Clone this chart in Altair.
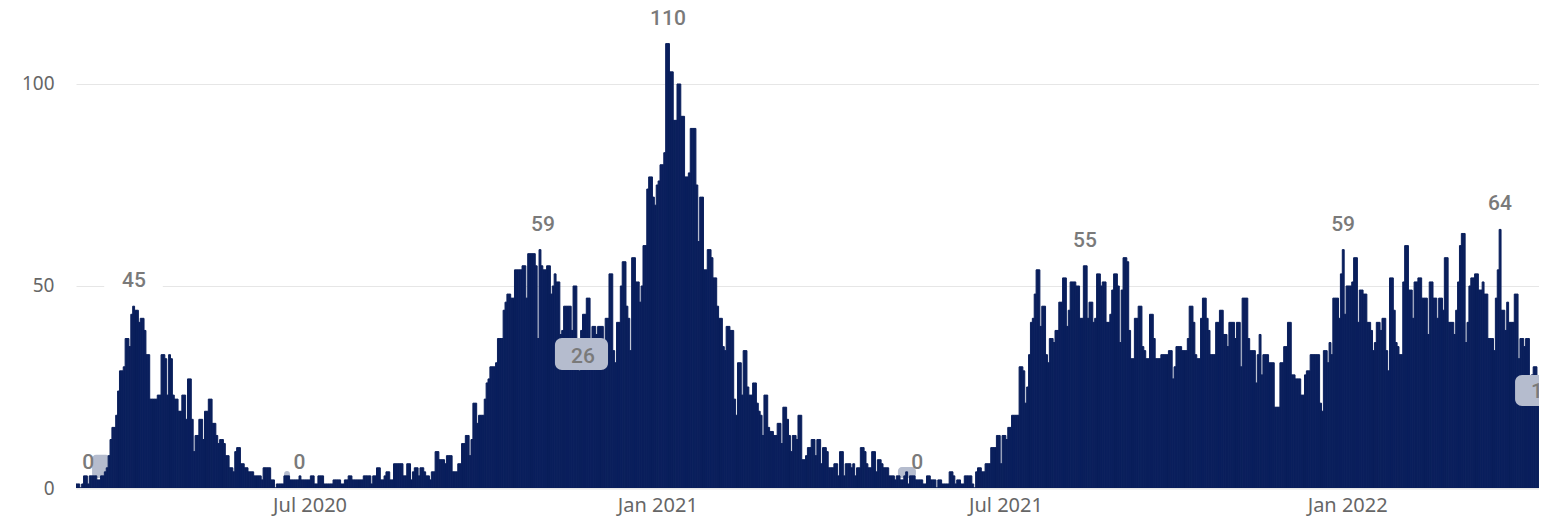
import altair as alt
import pandas as pd

START = "2020-03-01"

# daily values
cases_mar_may_2020 = [1,1,0,1,3,3,1,3,3,3, 3,2,2,3,3,4,5,8,12,15, 15,18,24,29,29,30,37,37,35,43,
                      45,44,44,41,42,42,39,33,33,22, 22,22,22,23,23,33,33,32,23,33, 32,23,22,22,19,19,23,23,17,27,
                      27,17,9,13,13,17]
cases_may_jul_2020 = [17,12,19,19,22,22,16,16,13,11, 12,12,11,8,8,5,5,4,9,10, 10,6,6,5,5,4,4,4,3,3,
                      3,3,2,5,5,5,5,2,2,0, 1,1,1,1,3,3,3,2,2,2, 2,2,3,2,2,2,2,2,3,3, 1,1,3,3,3,1]
cases_jul_sep_2020 = [1,1,1,1,2,2,2,2,1,1, 2,2,3,3,2,2,2,2,2,2, 3,3,3,3,1,3,3,5,5,2,
                      2,3,4,4,2,2,6,6,6,6, 6,3,3,6,6,2,4,5,5,3, 5,5,4,3,3,2,4,4,9,9, 7,7,7,6,8,8]
cases_sep_nov_2020 = [8,4,4,4,6,6,11,11,13,13, 8,12,21,21,16,18,18,18,22,26, 27,30,30,30,31,37,37,37,44,46,
                      48,48,47,47,54,54,54,54,55,55, 47,58,58,58,58,55,37,59,55,54, 54,55,55,48,50,53,51,51,38,39,
                      45,45,45,45,39,50]
cases_nov_jan_2021 = [50,35,29,39,43,43,47,47,37,40, 40,38,40,40,40,33,42,42,53,53, 34,31,41,41,50,56,56,45,42,34,
                      57,57,51,51,46,50,60,60,74,77, 77,72,70,75,76,80,80,83,110,110, 103,103,91,91,100,100,92,92,77,77,
                      78,89,89,89,75,61]
cases_jan_mar_2021 = [72,72,54,54,59,59,57,52,52,45, 42,42,35,34,40,40,39,39,22,18, 31,31,23,34,34,25,23,23,26,26,
                      21,19,18,13,23,23,15,14,14,13, 13,16,16,11,20,20,17,13,9,13, 13,12,18,18,7,7,8,10,10,12,
                      12,8,12,12,6,10]
cases_mar_may_2021 = [10,9,5,5,5,6,6,3,9,9, 3,6,6,6,5,6,3,5,5,10, 10,9,6,5,5,9,9,4,7,7,
                      6,5,5,5,3,3,3,2,3,3, 2,2,3,4,1,3,3,3,2,2, 2,2,1,1,3,3,2,2,2,0, 2,2,1,1,1,1]
cases_may_jul_2021 = [4,4,3,1,2,2,1,1,3,3, 3,3,1,0,4,5,5,4,4,6, 6,6,10,10,10,13,13,6,13,13,
                      12,15,15,18,18,18,18,30,30,29, 21,25,33,41,42,48,54,54,40,45, 45,33,31,37,37,36,39,39,46,46,
                      52,52,40,44,51,51]
cases_aug_oct_2021 = [51,50,50,42,42,55,55,42,46,46, 41,42,53,53,50,51,51,41,41,43, 49,53,53,50,36,49,57,57,56,39,
                      32,32,42,42,45,45,35,34,32,32, 43,43,37,32,32,32,33,33,33,33, 34,34,27,30,35,35,35,34,34,34,
                      37,45,45,41,33,32]
cases_oct_dec_2021 = [32,42,47,47,42,39,33,33,33,41, 41,44,44,38,38,35,41,41,41,37, 41,41,30,47,47,47,37,34,34,34,
                      26,33,38,28,33,33,33,31,31,31, 20,20,20,31,31,35,35,41,41,28, 28,27,27,27,23,23,28,29,29,33,
                      33,33,33,33,21,19,34,34,31,36, 33,47,47,47,42,53,59,43,50,50, 50,51,57,57,41,49,49,48]
cases_jan_apr_2022 = [48,41,41,39,34,36,41,41,39,42, 42,34,29,52,52,44,36,35,33,33, 51,60,60,49,49,42,51,51,52,52,
                      47,47,47,38,51,51,47,47,42,47, 47,44,57,57,41,41,41,38,44,51, 60,63,63,36,41,50,52,52,53,53,
                      49,49,51,48,48,37,37,37,34,47, 54,64,44,44,39,46,41,41,41,48, 48,32,37,37,35,37,37,24,28,30,
                      30,26,26,26,26,17]

cases = (cases_mar_may_2020 + cases_may_jul_2020 + cases_jul_sep_2020 + cases_sep_nov_2020
         + cases_nov_jan_2021 + cases_jan_mar_2021 + cases_mar_may_2021 + cases_may_jul_2021
         + cases_aug_oct_2021 + cases_oct_dec_2021 + cases_jan_apr_2022)

days = pd.date_range(START, periods=len(cases), freq="D")
fmt = "%Y-%m-%dT%H:%M:%S"
bars_df = pd.DataFrame({
    "date": days.strftime(fmt),
    "end": (days + pd.Timedelta(days=1)).strftime(fmt),
    "cases": cases,
})

# data labels (value labels above bars)
label_dates = ["2020-03-07T12:00:00", "2020-03-31T16:00:00", "2020-06-27T05:00:00", "2020-11-03T02:00:00",
               "2021-01-08T05:00:00", "2021-05-20T02:00:00", "2021-08-16T21:00:00", "2021-12-31T10:00:00",
               "2022-03-24T10:00:00"]
label_values = [0, 45, 0, 59, 110, 0, 55, 59, 64]
labels_df = pd.DataFrame({"date": label_dates, "cases": label_values,
                          "text": [str(v) for v in label_values]})

# label background boxes partly hidden behind the bars
back_start = ["2020-03-09T12:00:00", "2020-06-19T02:00:00", "2021-05-09T21:00:00", "2020-03-15T22:00:00"]
back_end = ["2020-03-19T00:00:00", "2020-06-22T05:00:00", "2021-05-19T10:00:00", "2020-04-15T22:00:00"]
back_low = [2.5, 2.5, 2.5, 48.5]
back_high = [8.2, 4.2, 5.2, 54.0]
back_color = ["#b5bcce", "#b5bcce", "#b5bcce", "#ffffff"]
back_df = pd.DataFrame({"date": back_start, "end": back_end, "cases": back_low, "hi": back_high,
                        "color": back_color})

# boxed labels drawn on top of the bars
box_start = ["2020-11-09T10:00:00", "2022-04-01T10:00:00"]
box_end = ["2020-12-07T12:00:00", "2022-04-30T00:00:00"]
box_low = [29.2, 20.3]
box_high = [37.1, 28.0]
box_df = pd.DataFrame({"date": box_start, "end": box_end, "cases": box_low, "hi": box_high})
box_text_dates = ["2020-11-24T05:00:00", "2022-04-09T19:00:00"]
box_text_values = [30.9, 22.3]
box_texts = ["26", "17"]
box_text_align = ["center", "left"]
box_text_df = pd.DataFrame({"date": box_text_dates, "cases": box_text_values, "text": box_texts,
                            "align": box_text_align})

NAVY = "#0a1f5c"
x_scale = alt.Scale(domain=[alt.DateTime(year=2020, month=3, date=1),
                            alt.DateTime(year=2022, month=4, date=14, hours=2)])
y_scale = alt.Scale(domain=[0, 115.84], nice=False)

x_axis = alt.Axis(
    values=[alt.DateTime(year=2020, month=7, date=1), alt.DateTime(year=2021, month=1, date=1),
            alt.DateTime(year=2021, month=7, date=1), alt.DateTime(year=2022, month=1, date=1)],
    format="%b %Y", title=None, ticks=False, tickSize=0, grid=False,
    domainColor="#e6e6e6", domainWidth=2, labelColor="#666666", labelFont="Noto Sans",
    labelFontSize=20, labelPadding=7, labelFlush=False,
    labelOffset={"condition": {"test": "datum.label == 'Jul 2021'", "value": 9}, "value": 3},
)
y_axis = alt.Axis(values=[0, 50, 100], title=None, ticks=False, tickSize=0, domain=False,
                  grid=True, gridColor="#e6e6e6", gridWidth=1, labelColor="#666666",
                  labelFont="Noto Sans", labelFontSize=19, labelPadding=22)


def xy(x_field="date:T", y_field="cases:Q"):
    return dict(
        x=alt.X(x_field, scale=x_scale, axis=x_axis),
        y=alt.Y(y_field, scale=y_scale, axis=y_axis),
    )


back = alt.Chart(back_df).mark_rect(cornerRadius=4, clip=True).encode(
    x2="end:T", y2="hi:Q", color=alt.Color("color:N", scale=None), **xy()
)

bars = alt.Chart(bars_df).mark_bar(color=NAVY, stroke=NAVY, strokeWidth=1, clip=True).encode(
    x2="end:T", y2=alt.datum(0), **xy()
)

boxes = alt.Chart(box_df).mark_rect(cornerRadius=7, color="#b5bcce", clip=True).encode(
    x2="end:T", y2="hi:Q", **xy()
)

labels = alt.Chart(labels_df).mark_text(
    font="Roboto", fontSize=21, fontWeight=500, color="#7a7a7a", baseline="alphabetic", dy=-19
).encode(text="text:N", **xy())

box_labels_c = alt.Chart(box_text_df[box_text_df["align"] == "center"]).mark_text(
    font="Roboto", fontSize=21, fontWeight=500, color="#7a7a7a", baseline="alphabetic", align="center"
).encode(text="text:N", **xy())

box_labels_l = alt.Chart(box_text_df[box_text_df["align"] == "left"]).mark_text(
    font="Roboto", fontSize=21, fontWeight=500, color="#7a7a7a", baseline="alphabetic", align="left"
).encode(text="text:N", **xy())

chart = alt.layer(back, bars, boxes, labels, box_labels_c, box_labels_l).properties(
    width=1463, height=468,
    padding={"left": 68, "top": 12, "right": 0, "bottom": 30},
    autosize=alt.AutoSizeParams(type="none"),
).configure_view(stroke=None)

chart.save("out.html", embed_options={"renderer": "svg", "actions": False})
